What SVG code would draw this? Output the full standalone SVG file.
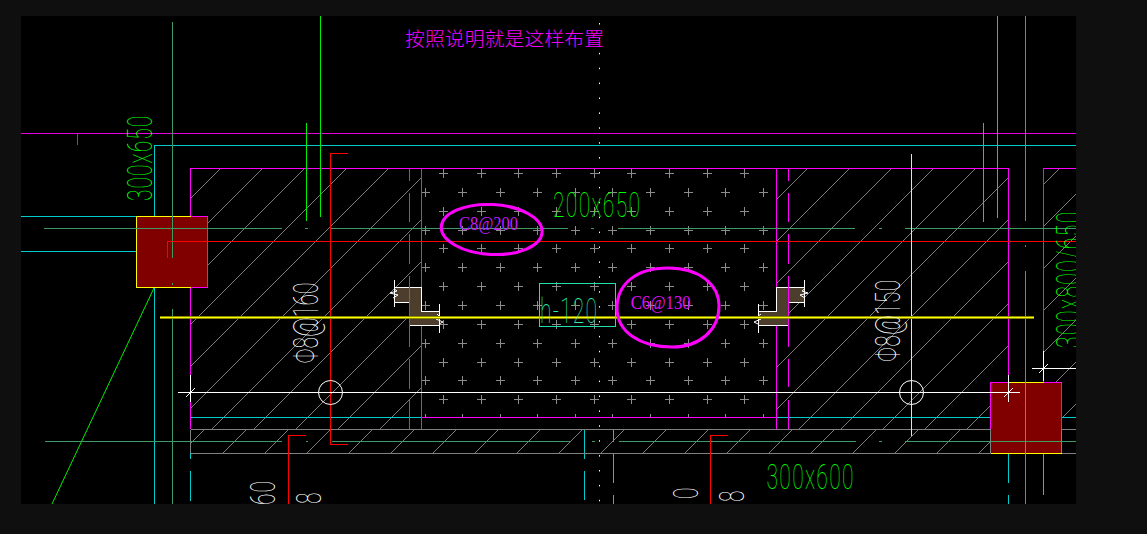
<svg xmlns="http://www.w3.org/2000/svg" width="1147" height="534" viewBox="0 0 1147 534">
<style>
.l{fill:none;shape-rendering:crispEdges}
.m{stroke:#f0f}.c{stroke:#0cc}.g{stroke:#0e0}.t{stroke:#3f9a66}.r{stroke:#f00}.w{stroke:#fff}.y{stroke:#ff0}.k{stroke:#808080}
.h{fill:none;stroke:#7c7c7c;stroke-width:1}
.cad{font-family:Roboto,Inter,"Liberation Sans",sans-serif;font-weight:100;font-size:35px}
.note{font-family:"Liberation Serif",serif;font-size:19px;fill:#c81cff}
</style>
<defs>
<clipPath id="hatchL"><rect x="190" y="168" width="231.500" height="261"/></clipPath>
<clipPath id="hatchR"><rect x="776.500" y="168" width="232" height="261"/></clipPath>
<clipPath id="hatchF"><rect x="1043.500" y="168" width="32.500" height="261"/></clipPath>
<clipPath id="hatchB"><rect x="190" y="429.500" width="800" height="24"/></clipPath>
<clipPath id="area"><rect x="21" y="16" width="1055" height="488"/></clipPath>
<path id="rowA" d="M439 0h9M443.500-4.500v9M477 0h9M481.500-4.500v9M514 0h9M518.500-4.500v9M552 0h9M556.500-4.500v9M590 0h9M594.500-4.500v9M627 0h9M631.500-4.500v9M665 0h9M669.500-4.500v9M703 0h9M707.500-4.500v9M740 0h9M744.500-4.500v9"/>
<path id="rowB" d="M421 0h9M425.500-4.500v9M458 0h9M462.500-4.500v9M496 0h9M500.500-4.500v9M533 0h9M537.500-4.500v9M571 0h9M575.500-4.500v9M608 0h9M612.500-4.500v9M646 0h9M650.500-4.500v9M684 0h9M688.500-4.500v9M721 0h9M725.500-4.500v9M759 0h9M763.500-4.500v9"/>
</defs>
<rect width="1147" height="534" fill="#0f0f0f"/>
<rect x="21" y="16" width="1055" height="488" fill="#000"/>
<g clip-path="url(#area)">
<g id="hatch" class="h">
<path clip-path="url(#hatchL)" d="M221 168L-40 429M263 168L2 429M305 168L44 429M347 168L86 429M389 168L128 429M431 168L170 429M473 168L212 429M515 168L254 429M557 168L296 429M599 168L338 429M641 168L380 429M683 168L422 429"/>
<path clip-path="url(#hatchR)" d="M808 168L547 429M850 168L589 429M892 168L631 429M934 168L673 429M976 168L715 429M1018 168L757 429M1060 168L799 429M1102 168L841 429M1144 168L883 429M1186 168L925 429M1228 168L967 429M1270 168L1009 429"/>
<path clip-path="url(#hatchF)" d="M1060 168L799 429M1102 168L841 429M1144 168L883 429M1186 168L925 429M1228 168L967 429M1270 168L1009 429M1312 168L1051 429M1354 168L1093 429"/>
<path clip-path="url(#hatchB)" d="M204 430L181 453M246 430L223 453M288 430L265 453M330 430L307 453M372 430L349 453M414 430L391 453M456 430L433 453M498 430L475 453M540 430L517 453M582 430L559 453M624 430L601 453M666 430L643 453M708 430L685 453M750 430L727 453M792 430L769 453M834 430L811 453M876 430L853 453M918 430L895 453M960 430L937 453M1002 430L979 453"/>
</g>
<g id="rebar-plus" class="l" stroke="#8c8c8c">
<use href="#rowA" y="173.500"/><use href="#rowB" y="192.500"/><use href="#rowA" y="211.500"/><use href="#rowB" y="230.500"/><use href="#rowA" y="248.500"/><use href="#rowB" y="267.500"/><use href="#rowA" y="286.500"/><use href="#rowB" y="305.500"/><use href="#rowA" y="324.500"/><use href="#rowB" y="343.500"/><use href="#rowA" y="362.500"/><use href="#rowB" y="380.500"/><use href="#rowA" y="399.500"/>
<path d="M425.500 414v3M462.500 414v3M500.500 414v3M537.500 414v3M575.500 414v3M612.500 414v3M650.500 414v3M688.500 414v3M725.500 414v3M763.500 414v3"/>
</g>
<g id="under-lines">
<path class="l" stroke="#e000e0" d="M21 133.500H1076M77.500 133.500V145"/>
<path class="l c" d="M1076 145.500H154.500V216M21 216.500H136M21 251.500H136M154.500 288V504M190.500 453V459M190.500 471V501M190.500 417.500H421M776 417.500H990M1062 417.500H1076M584.500 429V459M584.500 471V500M613.500 429V442M613.500 454V483M613.500 495V504M1008.500 453V483M1008.500 495V504M1043.500 453V495"/>
<path class="l k" d="M190.500 429.500H990M1062 429.500H1076M190.500 453.500H1076M190.500 429.500V453"/>
<path class="l m" d="M190.500 216V168.500H1008.500V375M190.500 288V375M190.500 402V429M1043.500 351V168.500H1076M421.500 168V429M776.500 168V429M421 417.500H776"/>
<path class="l m" d="M409.500 168V181M409.500 193V222M409.500 234V264M409.500 276V347M409.500 359V389M409.500 400V429M788.500 168V181M788.500 193V222M788.500 234V264M788.500 276V347M788.500 359V387M788.500 400V429"/>
<path class="l g" d="M320.500 16V217M306.500 123V221M997.500 16V218M983.500 123V222"/>
<path fill="none" stroke="#0e0" stroke-width="1" d="M154 288L52 504"/>
</g>
<g id="column-left">
<rect x="136.500" y="216.500" width="71" height="71" fill="#800000"/>
<path class="l y" d="M190.500 216.500H136.500V287.500H190.500"/>
<path class="l m" d="M190.500 216.500H207.500V287.500H190.500"/>
</g>
<g id="column-right">
<rect x="990.500" y="382.500" width="71" height="71" fill="#800000"/>
<path class="l m" d="M990.500 429V382.500H1008.500M1043.500 382.500H1061.500V429"/>
<path class="l y" d="M1008.500 382.500H1043.500M990.500 453.500H1061.500"/>
<path class="l k" d="M990.500 429V453M1061.500 429V453"/>
<path class="l m" d="M1043.500 378V382"/>
</g>
<g id="break-left">
<path fill="#4d3d2d" d="M395 287.500H421.500V311.500H439V325.500H409.500V302.500H395Z"/>
<path class="l w" d="M395 287.500H421.500V311.500H439M395 302.500H409.500V325.500H439M394.500 280V307M439.500 304V333"/>
<path fill="none" stroke="#fff" d="M394.500 289L397 291L390 293L398 295L393 298M437 314L440 317L436 319L443 322L439 324"/>
</g>
<g id="break-right">
<path fill="#4d3d2d" d="M804 287.500H776.500V311.500H758V325.500H788.500V302.500H804Z"/>
<path class="l w" d="M804 287.500H776.500V311.500H758M804 302.500H788.500V325.500H758M804.500 280V307M758.500 304V333"/>
<path fill="none" stroke="#fff" d="M804.500 289L802 291L808 293L800 295L805 298M761 314L757 317L761 319L754 322L758 324"/>
</g>
<g id="re-dash" class="l m"><path d="M409.500 276V347M788.500 276V347"/></g>
<g id="over-lines">
<path class="l t" d="M172.500 22V258M172.500 283V285M172.500 309V504M44 228.500H282M305 228.500H308M330 228.500H568M591 228.500H594M618 228.500H855M879 228.500H882M905 228.500H1076M45 441.500H282M306 441.500H308M332 441.500H570M592 441.500H595M619 441.500H856M879 441.500H882M905 441.500H1076"/>
<path class="l r" d="M167 258V241.500H1076M348 153.500H330.500V444.500H348M306 435.500H288.500V504M728 435.500H710.500V504"/>
<path class="l y" d="M911.500 154V436"/>
<path class="l k" d="M1025.500 16V221M1025.500 245V247M1025.500 271V504"/>
<path d="M599.500 23V504" fill="none" stroke="#fff" stroke-width="1" stroke-dasharray="1.500 13.400"/>
<path class="l" stroke="#8a8a00" stroke-width="3" d="M160 317.500H1034"/>
<path class="l y" stroke-width="1.500" d="M160 317.500H1034"/>
<path class="l w" d="M178 392.500H1020M190.500 375V402M1008.500 375V402M1043.500 351V381M1032 368.500H1076"/>
<path fill="none" stroke="#fff" d="M186 397L195 388M1004 397L1013 388M1039 373L1048 364"/>
<circle cx="330.500" cy="392.500" r="12" fill="none" stroke="#fff" stroke-width="1"/>
<circle cx="911.500" cy="392.500" r="12" fill="none" stroke="#fff" stroke-width="1"/>
<rect class="l" x="539.500" y="283.500" width="76" height="43" stroke="#20e0b0"/>
</g>
<g id="labels">
<text class="cad" fill="#0f0" transform="translate(152 201) rotate(-90) scale(.6 1)" textLength="142" lengthAdjust="spacing">300x650</text>
<text class="cad" fill="#0f0" transform="translate(553 217.300) scale(.6 1)" textLength="145" lengthAdjust="spacing">200x650</text>
<text class="cad" fill="#0f0" transform="translate(766.500 489) scale(.6 1)" textLength="145" lengthAdjust="spacing">300x600</text>
<text class="cad" fill="#0f0" transform="translate(1081 348) rotate(-90) scale(.6 1)" textLength="227" lengthAdjust="spacing">300x800/650</text>
<text class="cad" fill="#30e8b0" transform="translate(540 323.300) scale(.6 1)" textLength="95" lengthAdjust="spacing">h-120</text>
<text class="cad" fill="#fff" transform="translate(318 363.500) rotate(-90) scale(.6 1)" textLength="135" lengthAdjust="spacing">Φ8@160</text>
<text class="cad" fill="#fff" transform="translate(900 362) rotate(-90) scale(.6 1)" textLength="137" lengthAdjust="spacing">Φ8@150</text>
<text class="cad" fill="#fff" transform="translate(275 505) rotate(-90) scale(.6 1)" textLength="40" lengthAdjust="spacing">60</text>
<text class="cad" fill="#fff" transform="translate(321 504) rotate(-90) scale(.6 1)">8</text>
<text class="cad" fill="#fff" transform="translate(698 499) rotate(-90) scale(.6 1)">0</text>
<text class="cad" fill="#fff" transform="translate(744 502) rotate(-90) scale(.6 1)">8</text>
</g>
</g>
<g id="markup" fill="none" stroke="#f0f" stroke-width="3">
<ellipse cx="491.700" cy="229.500" rx="50.500" ry="25" transform="rotate(3 491.700 229.500)"/>
<path d="M617 308C617 285 635 268 668 268C700 268 719 285 719 306C719 330 700 347 672 347C640 347 617 332 617 308Z"/>
</g>
<g id="markup-text">
<text class="note" x="459" y="230" textLength="59" lengthAdjust="spacingAndGlyphs">C8@200</text>
<text class="note" x="630.700" y="309.300" textLength="60" lengthAdjust="spacingAndGlyphs" style="fill:#e010ff">C6@130</text>
<text x="405" y="46" font-family="'Noto Sans CJK SC',sans-serif" font-size="19.800" font-weight="300" fill="#f000ff" textLength="199">按照说明就是这样布置</text>
</g>
</svg>
